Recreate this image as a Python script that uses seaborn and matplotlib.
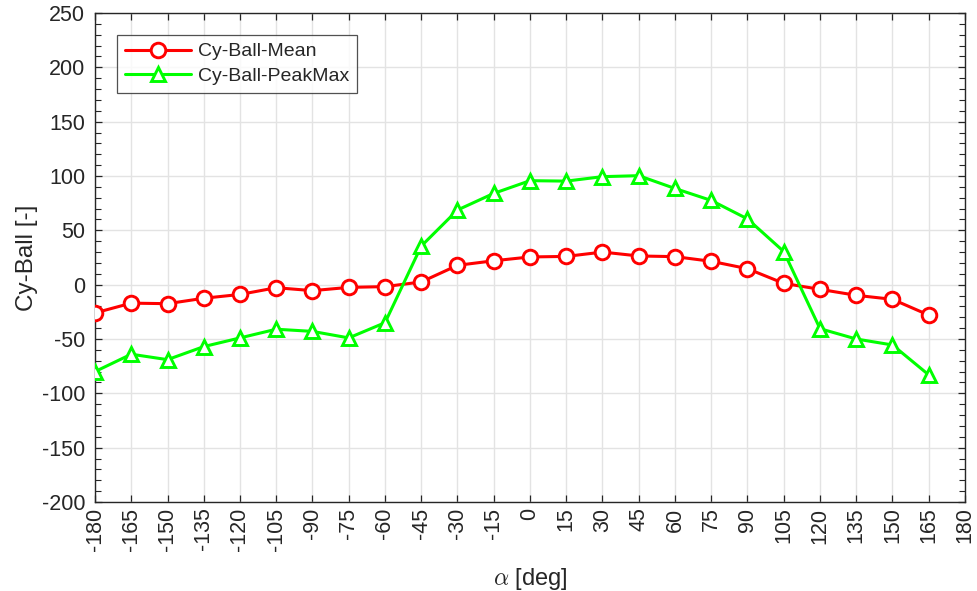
import numpy as np
import pandas as pd
import matplotlib
matplotlib.use("Agg")
import matplotlib.pyplot as plt
from matplotlib.ticker import MultipleLocator
import seaborn as sns

alpha_deg = [-180, -165, -150, -135, -120, -105, -90, -75, -60, -45, -30, -15,
             0, 15, 30, 45, 60, 75, 90, 105, 120, 135, 150, 165]
cy_mean = [-26, -17, -17.5, -12.5, -9, -2.8, -5.5, -2.5, -1.8, 2.5, 17.8, 22,
           25.5, 26, 30, 26.4, 25.8, 21.5, 14.7, 1.2, -4.3, -9.8, -13.5, -28]
cy_peakmax = [-80, -64, -69, -57, -49, -41, -43, -49, -35, 35.5, 68.7, 84,
              95.7, 95.3, 99.4, 100.3, 88.5, 77.5, 60.5, 30.5, -40.5, -50, -55.5, -83]
series_names = ["Cy-Ball-Mean", "Cy-Ball-PeakMax"]
xticks = list(range(-180, 181, 15))
yticks = list(range(-200, 251, 50))

df = pd.concat([
    pd.DataFrame({"alpha": alpha_deg, "value": cy_mean, "series": series_names[0]}),
    pd.DataFrame({"alpha": alpha_deg, "value": cy_peakmax, "series": series_names[1]}),
])

sns.set_theme(style="white")
plt.rcParams["font.family"] = ["Liberation Sans", "DejaVu Sans"]
plt.rcParams["mathtext.fontset"] = "cm"
plt.rcParams["axes.unicode_minus"] = False

fig = plt.figure(figsize=(9.78, 5.91), dpi=100)
ax = fig.add_axes([95 / 978, 1 - 502 / 591, 870 / 978, 489 / 591])

palette = {series_names[0]: "#ff0000", series_names[1]: "#00ff00"}
markers = {series_names[0]: "o", series_names[1]: "^"}
sns.lineplot(data=df, x="alpha", y="value", hue="series", style="series",
             palette=palette, markers=markers, dashes=False, linewidth=2.2,
             markersize=10.5, markeredgewidth=2.1, legend=False, ax=ax, zorder=3)

for line in ax.lines:
    line.set_markeredgecolor(line.get_color())
    line.set_markerfacecolor("white")

ax.set_xlim(-180, 180)
ax.set_ylim(-200, 250)
ax.set_xticks(xticks)
ax.set_xticklabels([str(t) for t in xticks], rotation=90)
ax.set_yticks(yticks)
ax.set_yticklabels([str(t) for t in yticks])
ax.yaxis.set_minor_locator(MultipleLocator(10))
ax.grid(True, which="major", color="#e3e3e3", linewidth=1.0)
ax.set_axisbelow(True)

ax.tick_params(axis="both", which="both", direction="in", top=True, right=True,
               bottom=True, left=True, colors="#262626", labelsize=15.5)
ax.tick_params(axis="x", which="major", length=5, width=0.9, pad=4)
ax.tick_params(axis="y", which="major", length=5, width=0.9, pad=7)
ax.tick_params(axis="y", which="minor", length=4, width=0.8)
for s in ax.spines.values():
    s.set_color("#262626")
    s.set_linewidth(1.0)
    s.set_visible(True)

ax.set_xlabel(r"$\alpha$ [deg]", fontsize=17, color="#262626", labelpad=11)
ax.set_ylabel("Cy-Ball [-]", fontsize=17.5, color="#262626", labelpad=3)

leg = ax.legend(handles=ax.lines, labels=series_names, loc="upper left",
                bbox_to_anchor=(0.025, 0.955), borderaxespad=0, fontsize=14,
                frameon=True, fancybox=False, edgecolor="#262626",
                handlelength=3.4, handletextpad=0.4, borderpad=0.4, labelspacing=0.35)
leg.get_frame().set_linewidth(0.9)

fig.savefig("out.png", dpi=100)
